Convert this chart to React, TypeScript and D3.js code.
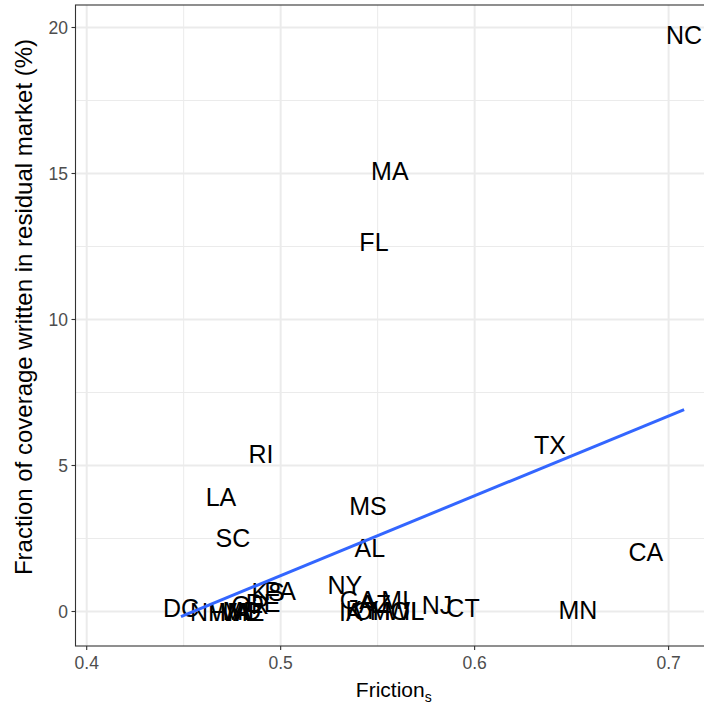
import React, { useEffect, useRef } from 'react';
import * as d3 from 'd3';

// state labels and their positions (friction, % in residual market)
const states = ['NC', 'MA', 'FL', 'TX', 'RI', 'LA', 'MS', 'SC', 'AL', 'CA', 'NY', 'MN', 'CT', 'NJ', 'MI', 'GA', 'AZ', 'IA', 'KY', 'OH', 'MO', 'WI', 'IL', 'DC', 'NH', 'WA', 'VA', 'MD', 'ME', 'OR', 'DE', 'KS', 'PA'];
const friction = [0.708, 0.5563, 0.5481, 0.6388, 0.4898, 0.4692, 0.545, 0.4754, 0.546, 0.6883, 0.5331, 0.6532, 0.594, 0.5806, 0.559, 0.5398, 0.5486, 0.5362, 0.542, 0.547, 0.5563, 0.5625, 0.5687, 0.4486, 0.4626, 0.4739, 0.477, 0.48, 0.482, 0.4843, 0.4909, 0.4935, 0.4997];
const residual = [19.74, 15.09, 12.65, 5.7, 5.39, 3.92, 3.61, 2.52, 2.18, 2.04, 0.91, 0.05, 0.12, 0.22, 0.39, 0.39, 0.26, 0.0, 0.05, 0.02, 0.02, 0.02, 0.02, 0.12, 0.0, 0.0, 0.0, 0.02, 0.0, 0.22, 0.29, 0.67, 0.7];

// linear fit (geom_smooth, method = lm)
const lmIntercept = -12.44;
const lmSlope = 27.34;

const xTicks = [0.4, 0.5, 0.6, 0.7];
const xMinor = [0.45, 0.55, 0.65];
const yTicks = [0, 5, 10, 15, 20];
const yMinor = [2.5, 7.5, 12.5, 17.5];

const W = 704;
const H = 706;
const panel = { left: 75.5, top: 5, right: 712, bottom: 646 };
const FONT = 'Liberation Sans, Arial, Helvetica, sans-serif';

export default function App() {
  const svgRef = useRef<SVGSVGElement>(null);

  useEffect(() => {
    const svg = d3.select(svgRef.current);
    svg.selectAll('*').remove();

    const x = d3.scaleLinear().domain([0.4, 0.7]).range([86.7, 668.6]);
    const y = d3.scaleLinear().domain([0, 20]).range([611.5, 27.5]);

    svg.append('rect')
      .attr('width', W).attr('height', H).attr('fill', 'white');

    const grid = svg.append('g');
    grid.selectAll('.xminor').data(xMinor).enter().append('line')
      .attr('x1', (d) => x(d)).attr('x2', (d) => x(d))
      .attr('y1', panel.top).attr('y2', panel.bottom)
      .attr('stroke', '#ebebeb').attr('stroke-width', 1);
    grid.selectAll('.yminor').data(yMinor).enter().append('line')
      .attr('y1', (d) => y(d)).attr('y2', (d) => y(d))
      .attr('x1', panel.left).attr('x2', panel.right)
      .attr('stroke', '#ebebeb').attr('stroke-width', 1);
    grid.selectAll('.xmajor').data(xTicks).enter().append('line')
      .attr('x1', (d) => x(d)).attr('x2', (d) => x(d))
      .attr('y1', panel.top).attr('y2', panel.bottom)
      .attr('stroke', '#ebebeb').attr('stroke-width', 2);
    grid.selectAll('.ymajor').data(yTicks).enter().append('line')
      .attr('y1', (d) => y(d)).attr('y2', (d) => y(d))
      .attr('x1', panel.left).attr('x2', panel.right)
      .attr('stroke', '#ebebeb').attr('stroke-width', 2);

    // state labels
    svg.append('g').selectAll('text').data(states).enter().append('text')
      .attr('x', (d, i) => x(friction[i]))
      .attr('y', (d, i) => y(residual[i]))
      .attr('dy', '0.36em')
      .attr('text-anchor', 'middle')
      .style('font-family', FONT)
      .style('font-size', '25px')
      .attr('fill', 'black')
      .text((d) => d);

    // fitted line
    const xr = d3.extent(friction) as [number, number];
    const line = d3.line<number>().x((d) => x(d)).y((d) => y(lmIntercept + lmSlope * d));
    svg.append('path')
      .attr('d', line(xr))
      .attr('fill', 'none')
      .attr('stroke', '#3366FF')
      .attr('stroke-width', 3);

    // panel border
    svg.append('rect')
      .attr('x', panel.left).attr('y', panel.top)
      .attr('width', panel.right - panel.left).attr('height', panel.bottom - panel.top)
      .attr('fill', 'none').attr('stroke', '#333333').attr('stroke-width', 1.1);

    // x axis
    const xa = svg.append('g');
    xa.selectAll('line').data(xTicks).enter().append('line')
      .attr('x1', (d) => x(d)).attr('x2', (d) => x(d))
      .attr('y1', panel.bottom).attr('y2', panel.bottom + 4)
      .attr('stroke', '#333333').attr('stroke-width', 1.1);
    xa.selectAll('text').data(xTicks).enter().append('text')
      .attr('x', (d) => x(d)).attr('y', 663)
      .attr('dy', '0.36em')
      .attr('text-anchor', 'middle')
      .style('font-family', FONT).style('font-size', '17.5px')
      .attr('fill', '#4d4d4d')
      .text((d) => d3.format('.1f')(d));

    // y axis
    const ya = svg.append('g');
    ya.selectAll('line').data(yTicks).enter().append('line')
      .attr('y1', (d) => y(d)).attr('y2', (d) => y(d))
      .attr('x1', panel.left - 4).attr('x2', panel.left)
      .attr('stroke', '#333333').attr('stroke-width', 1.1);
    ya.selectAll('text').data(yTicks).enter().append('text')
      .attr('x', 68).attr('y', (d) => y(d))
      .attr('dy', '0.36em')
      .attr('text-anchor', 'end')
      .style('font-family', FONT).style('font-size', '17.5px')
      .attr('fill', '#4d4d4d')
      .text((d) => d);

    // titles
    const xt = svg.append('text')
      .attr('x', (panel.left + panel.right) / 2).attr('y', 697)
      .attr('text-anchor', 'middle')
      .style('font-family', FONT).style('font-size', '21px')
      .attr('fill', 'black');
    xt.append('tspan').text('Friction');
    xt.append('tspan').attr('dy', 5).style('font-size', '14px').text('s');

    svg.append('text')
      .attr('transform', 'translate(32,307) rotate(-90)')
      .attr('text-anchor', 'middle')
      .style('font-family', FONT).style('font-size', '24px')
      .attr('fill', 'black')
      .text('Fraction of coverage written in residual market (%)');
  }, []);

  return (
    <svg
      ref={svgRef}
      width={W}
      height={H}
      style={{ position: 'absolute', left: 0, top: 0, display: 'block' }}
    />
  );
}
